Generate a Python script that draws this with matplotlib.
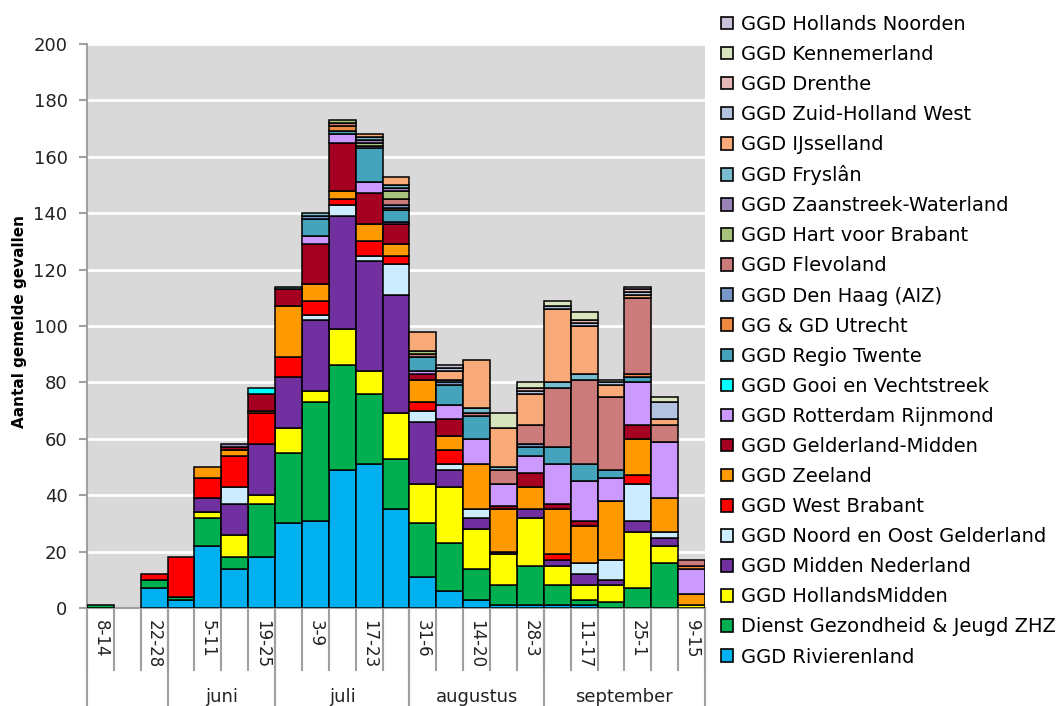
import matplotlib
matplotlib.use('Agg')
import matplotlib.pyplot as plt
import numpy as np
from matplotlib.patches import Patch

# weken (mei t/m september)
weken = ['8-14', '15-21', '22-28', '29-4', '5-11', '12-18', '19-25', '26-2', '3-9',
         '10-16', '17-23', '24-30', '31-6', '7-13', '14-20', '21-27', '28-3', '4-10',
         '11-17', '18-24', '25-1', '2-8', '9-15']
maanden = ['', 'juni', 'juli', 'augustus', 'september']
maand_grenzen = [(0, 2), (3, 6), (7, 11), (12, 16), (17, 22)]

# aantallen per GGD per week (van onder naar boven gestapeld)
rivierenland   = [0, 0, 7, 3, 22, 14, 18, 30, 31, 49, 51, 35, 11, 6, 3, 1, 1, 1, 1, 0, 0, 0, 0]
dgj_zhz        = [1, 0, 3, 1, 10, 4, 19, 25, 42, 37, 25, 18, 19, 17, 11, 7, 14, 7, 2, 2, 7, 16, 0]
hollandsmidden = [0, 0, 0, 0, 2, 8, 3, 9, 4, 13, 8, 16, 14, 20, 14, 11, 17, 7, 5, 6, 20, 6, 1]
midden_ned     = [0, 0, 0, 0, 5, 11, 18, 18, 25, 40, 39, 42, 22, 6, 4, 1, 3, 2, 4, 2, 4, 3, 0]
noord_oost_gld = [0, 0, 0, 0, 0, 6, 0, 0, 2, 4, 2, 11, 4, 2, 3, 0, 0, 0, 4, 7, 13, 2, 0]
west_brabant   = [0, 0, 2, 14, 7, 11, 11, 7, 5, 2, 5, 3, 3, 5, 0, 0, 0, 2, 0, 0, 3, 0, 0]
zeeland        = [0, 0, 0, 0, 4, 2, 1, 18, 6, 3, 6, 4, 8, 5, 16, 15, 8, 16, 13, 21, 13, 12, 4]
gld_midden     = [0, 0, 0, 0, 0, 1, 6, 6, 14, 17, 11, 7, 2, 6, 0, 1, 5, 2, 2, 0, 5, 0, 0]
rotterdam      = [0, 0, 0, 0, 0, 0, 0, 0, 3, 3, 4, 1, 1, 5, 9, 8, 6, 14, 14, 8, 15, 20, 9]
gooi           = [0, 0, 0, 0, 0, 0, 2, 0, 0, 0, 0, 0, 0, 0, 0, 0, 0, 0, 0, 0, 0, 0, 0]
twente         = [0, 0, 0, 0, 0, 0, 0, 1, 6, 1, 12, 4, 5, 7, 8, 0, 3, 6, 6, 3, 2, 0, 0]
utrecht        = [0, 0, 0, 0, 0, 0, 0, 0, 0, 2, 0, 1, 0, 0, 0, 0, 0, 0, 0, 0, 1, 0, 1]
den_haag       = [0, 0, 0, 0, 0, 0, 0, 0, 1, 0, 1, 1, 0, 1, 0, 0, 1, 0, 0, 0, 0, 0, 0]
flevoland      = [0, 0, 0, 0, 0, 0, 0, 0, 0, 1, 0, 2, 1, 0, 1, 5, 7, 21, 30, 26, 27, 6, 2]
hart_brabant   = [0, 0, 0, 0, 0, 0, 0, 0, 0, 1, 1, 3, 1, 0, 0, 0, 0, 0, 0, 0, 0, 0, 0]
zaanstreek     = [0, 0, 0, 0, 0, 1, 0, 0, 0, 0, 1, 1, 0, 0, 0, 0, 0, 0, 0, 0, 0, 0, 0]
fryslan        = [0, 0, 0, 0, 0, 0, 0, 0, 1, 0, 1, 1, 0, 1, 2, 1, 0, 2, 2, 0, 0, 0, 0]
ijsselland     = [0, 0, 0, 0, 0, 0, 0, 0, 0, 0, 1, 3, 7, 3, 17, 14, 11, 26, 17, 4, 1, 2, 0]
zh_west        = [0, 0, 0, 0, 0, 0, 0, 0, 0, 0, 0, 0, 0, 1, 0, 0, 1, 1, 1, 1, 1, 6, 0]
drenthe        = [0, 0, 0, 0, 0, 0, 0, 0, 0, 0, 0, 0, 0, 0, 0, 0, 1, 0, 1, 0, 1, 0, 0]
kennemerland   = [0, 0, 0, 0, 0, 0, 0, 0, 0, 0, 0, 0, 0, 0, 0, 5, 2, 2, 3, 1, 0, 2, 0]
hollands_nrd   = [0, 0, 0, 0, 0, 0, 0, 0, 0, 0, 0, 0, 0, 1, 0, 0, 0, 0, 0, 0, 1, 0, 0]

reeksen = [
    ('GGD Rivierenland', rivierenland, '#00B0F0'),
    ('Dienst Gezondheid & Jeugd ZHZ', dgj_zhz, '#00B050'),
    ('GGD HollandsMidden', hollandsmidden, '#FFFF00'),
    ('GGD Midden Nederland', midden_ned, '#7030A0'),
    ('GGD Noord en Oost Gelderland', noord_oost_gld, '#CCECFF'),
    ('GGD West Brabant', west_brabant, '#FF0000'),
    ('GGD Zeeland', zeeland, '#FF9900'),
    ('GGD Gelderland-Midden', gld_midden, '#A50021'),
    ('GGD Rotterdam Rijnmond', rotterdam, '#CC99FF'),
    ('GGD Gooi en Vechtstreek', gooi, '#00FFFF'),
    ('GGD Regio Twente', twente, '#46A3BC'),
    ('GG & GD Utrecht', utrecht, '#EE8A40'),
    ('GGD Den Haag (AIZ)', den_haag, '#7896C8'),
    ('GGD Flevoland', flevoland, '#CC7B7B'),
    ('GGD Hart voor Brabant', hart_brabant, '#A8C47C'),
    ('GGD Zaanstreek-Waterland', zaanstreek, '#9982B8'),
    ('GGD Fryslân', fryslan, '#78BCD0'),
    ('GGD IJsselland', ijsselland, '#F8AA78'),
    ('GGD Zuid-Holland West', zh_west, '#B4C4E0'),
    ('GGD Drenthe', drenthe, '#E6B9B8'),
    ('GGD Kennemerland', kennemerland, '#D7E4BD'),
    ('GGD Hollands Noorden', hollands_nrd, '#CCC1DA'),
]

fig = plt.figure(figsize=(10.58, 7.06), dpi=100)
ax = fig.add_axes([87/1058, 98/706, 618/1058, 564/706])
ax.set_facecolor('#D9D9D9')

x = np.arange(len(weken))
bodem = np.zeros(len(weken))
for naam, waarden, kleur in reeksen:
    w = np.array(waarden, dtype=float)
    m = w > 0
    ax.bar(x[m], w[m], bottom=bodem[m], width=1.0, color=kleur,
           edgecolor='black', linewidth=1.1, zorder=3)
    bodem += w

ax.set_xlim(-0.5, len(weken) - 0.5)
ax.set_ylim(0, 200)
ax.set_yticks(range(0, 201, 20))
ax.yaxis.grid(True, color='white', linewidth=2)
ax.set_axisbelow(True)
ax.tick_params(axis='y', labelsize=13, colors='#A0A0A0', labelcolor='#222222',
               length=6, width=1.5, pad=8)
ax.set_xticks([])
for s in ['top', 'right']:
    ax.spines[s].set_visible(False)
ax.spines['left'].set_color('#A0A0A0')
ax.spines['left'].set_linewidth(1.5)
ax.spines['bottom'].set_color('#A0A0A0')
ax.spines['bottom'].set_linewidth(1.5)

# as-labels onder de grafiek (weken en maanden)
trans = ax.get_xaxis_transform()
for i in range(len(weken) + 1):
    ax.plot([i - 0.5, i - 0.5], [0, -0.11], transform=trans, color='#A0A0A0',
            linewidth=1.5, clip_on=False)
for i, wk in enumerate(weken):
    if i % 2 == 0:
        ax.text(i, -0.022, wk, transform=trans, rotation=270, ha='center', va='top',
                fontsize=12, color='#222222')
for naam, (a, b) in zip(maanden, maand_grenzen):
    for g in (a - 0.5, b + 0.5):
        ax.plot([g, g], [0, -0.18], transform=trans, color='#A0A0A0',
                linewidth=1.5, clip_on=False)
    ax.text((a + b) / 2, -0.157, naam, transform=trans, ha='center', va='center',
            fontsize=13, color='#222222')

fig.text(20/1058, 1 - 322/706, 'Aantal gemelde gevallen', rotation=90,
         ha='center', va='center', fontsize=11, fontweight='bold')

handles = [Patch(facecolor=k, edgecolor='black', linewidth=1.2, label=n)
           for n, _, k in reeksen[::-1]]
fig.legend(handles=handles, loc='upper left', bbox_to_anchor=(713/1058, 1 - 7/706),
           frameon=False, fontsize=14, handlelength=0.62, handleheight=0.62,
           handletextpad=0.4, labelspacing=0.57, borderaxespad=0)

fig.savefig('out.png', dpi=100)
